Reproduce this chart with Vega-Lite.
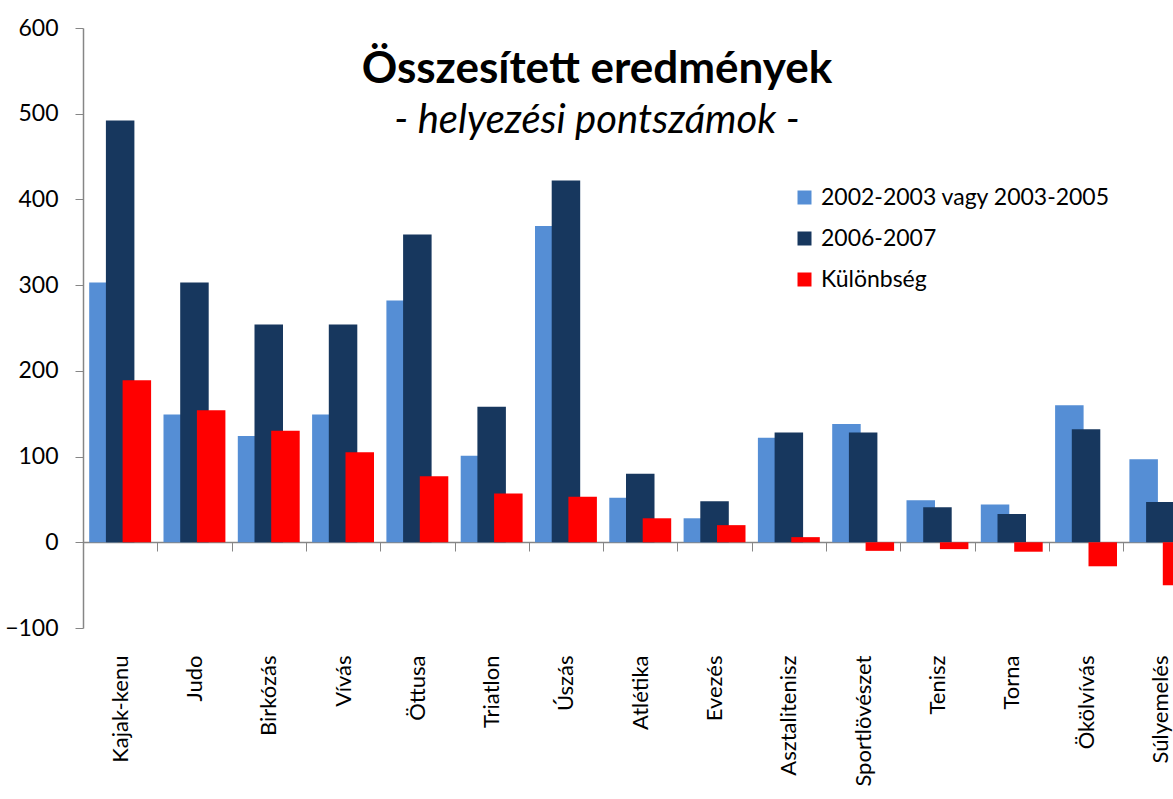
{
  "$schema": "https://vega.github.io/schema/vega-lite/v6.json",
  "autosize": {"type": "none"},
  "width": 1090,
  "height": 600,
  "padding": {"left": 83, "top": 28, "right": 0, "bottom": 171},
  "background": "white",
  "config": {"view": {"stroke": null}, "font": "Lato"},
  "title": {
    "text": "Összesített eredmények",
    "subtitle": "- helyezési pontszámok -",
    "fontSize": 44,
    "fontWeight": "bold",
    "color": "black",
    "subtitleFontSize": 40,
    "subtitleFontStyle": "italic",
    "subtitleColor": "black",
    "subtitlePadding": 9,
    "anchor": "middle",
    "frame": "group",
    "offset": -124,
    "dx": -31
  },
  "data": {
    "values": [
      {"sport": "Kajak-kenu", "series": "2002-2003 vagy 2003-2005", "value": 303},
      {"sport": "Kajak-kenu", "series": "2006-2007", "value": 492},
      {"sport": "Kajak-kenu", "series": "Különbség", "value": 189},
      {"sport": "Judo", "series": "2002-2003 vagy 2003-2005", "value": 149},
      {"sport": "Judo", "series": "2006-2007", "value": 303},
      {"sport": "Judo", "series": "Különbség", "value": 154},
      {"sport": "Birkózás", "series": "2002-2003 vagy 2003-2005", "value": 124},
      {"sport": "Birkózás", "series": "2006-2007", "value": 254},
      {"sport": "Birkózás", "series": "Különbség", "value": 130},
      {"sport": "Vívás", "series": "2002-2003 vagy 2003-2005", "value": 149},
      {"sport": "Vívás", "series": "2006-2007", "value": 254},
      {"sport": "Vívás", "series": "Különbség", "value": 105},
      {"sport": "Öttusa", "series": "2002-2003 vagy 2003-2005", "value": 282},
      {"sport": "Öttusa", "series": "2006-2007", "value": 359},
      {"sport": "Öttusa", "series": "Különbség", "value": 77},
      {"sport": "Triatlon", "series": "2002-2003 vagy 2003-2005", "value": 101},
      {"sport": "Triatlon", "series": "2006-2007", "value": 158},
      {"sport": "Triatlon", "series": "Különbség", "value": 57},
      {"sport": "Úszás", "series": "2002-2003 vagy 2003-2005", "value": 369},
      {"sport": "Úszás", "series": "2006-2007", "value": 422},
      {"sport": "Úszás", "series": "Különbség", "value": 53},
      {"sport": "Atlétika", "series": "2002-2003 vagy 2003-2005", "value": 52},
      {"sport": "Atlétika", "series": "2006-2007", "value": 80},
      {"sport": "Atlétika", "series": "Különbség", "value": 28},
      {"sport": "Evezés", "series": "2002-2003 vagy 2003-2005", "value": 28},
      {"sport": "Evezés", "series": "2006-2007", "value": 48},
      {"sport": "Evezés", "series": "Különbség", "value": 20},
      {"sport": "Asztalitenisz", "series": "2002-2003 vagy 2003-2005", "value": 122},
      {"sport": "Asztalitenisz", "series": "2006-2007", "value": 128},
      {"sport": "Asztalitenisz", "series": "Különbség", "value": 6},
      {"sport": "Sportlövészet", "series": "2002-2003 vagy 2003-2005", "value": 138},
      {"sport": "Sportlövészet", "series": "2006-2007", "value": 128},
      {"sport": "Sportlövészet", "series": "Különbség", "value": -10},
      {"sport": "Tenisz", "series": "2002-2003 vagy 2003-2005", "value": 49},
      {"sport": "Tenisz", "series": "2006-2007", "value": 41},
      {"sport": "Tenisz", "series": "Különbség", "value": -8},
      {"sport": "Torna", "series": "2002-2003 vagy 2003-2005", "value": 44},
      {"sport": "Torna", "series": "2006-2007", "value": 33},
      {"sport": "Torna", "series": "Különbség", "value": -11},
      {"sport": "Ökölvívás", "series": "2002-2003 vagy 2003-2005", "value": 160},
      {"sport": "Ökölvívás", "series": "2006-2007", "value": 132},
      {"sport": "Ökölvívás", "series": "Különbség", "value": -28},
      {"sport": "Súlyemelés", "series": "2002-2003 vagy 2003-2005", "value": 97},
      {"sport": "Súlyemelés", "series": "2006-2007", "value": 47},
      {"sport": "Súlyemelés", "series": "Különbség", "value": -50}
    ]
  },
  "encoding": {
    "x": {
      "field": "sport",
      "type": "nominal",
      "sort": null,
      "scale": {"range": [0, 1114.5], "paddingInner": 0, "paddingOuter": 0},
      "axis": {
        "title": null,
        "orient": "bottom",
        "offset": -86,
        "tickBand": "extent",
        "tickSize": 9,
        "tickColor": "#868686",
        "domainColor": "#868686",
        "domainWidth": 1.5,
        "labelAngle": -90,
        "labelAlign": "right",
        "labelBaseline": "middle",
        "labelPadding": 104,
        "labelFontSize": 22,
        "labelColor": "black",
        "labelFont": "Lato",
        "labelLimit": 0
      }
    },
    "y": {
      "field": "value",
      "type": "quantitative",
      "scale": {"domain": [-100, 600], "nice": false, "zero": false},
      "axis": {
        "title": null,
        "grid": false,
        "values": [-100, 0, 100, 200, 300, 400, 500, 600],
        "tickSize": 8,
        "tickColor": "#868686",
        "domainColor": "#868686",
        "domainWidth": 1.5,
        "labelFontSize": 23,
        "labelColor": "black",
        "labelPadding": 17,
        "labelFont": "Lato"
      }
    },
    "color": {
      "field": "series",
      "type": "nominal",
      "scale": {
        "domain": ["2002-2003 vagy 2003-2005", "2006-2007", "Különbség"],
        "range": ["#558ED5", "#17375E", "#FF0000"]
      },
      "legend": {
        "title": null,
        "orient": "none",
        "legendX": 710,
        "legendY": 158,
        "padding": 0,
        "symbolType": "square",
        "symbolSize": 196,
        "symbolStrokeWidth": 0,
        "labelFontSize": 23,
        "labelColor": "black",
        "labelOffset": 5,
        "labelLimit": 0,
        "rowPadding": 17,
        "labelFont": "Lato"
      }
    }
  },
  "layer": [
    {
      "transform": [{"filter": "datum.series === '2002-2003 vagy 2003-2005'"}],
      "mark": {"type": "bar", "width": 28.5, "xOffset": -16.7}
    },
    {
      "transform": [{"filter": "datum.series === '2006-2007'"}],
      "mark": {"type": "bar", "width": 28.5, "xOffset": 0}
    },
    {
      "transform": [{"filter": "datum.series === 'Különbség'"}],
      "mark": {"type": "bar", "width": 28.5, "xOffset": 16.7}
    }
  ]
}
